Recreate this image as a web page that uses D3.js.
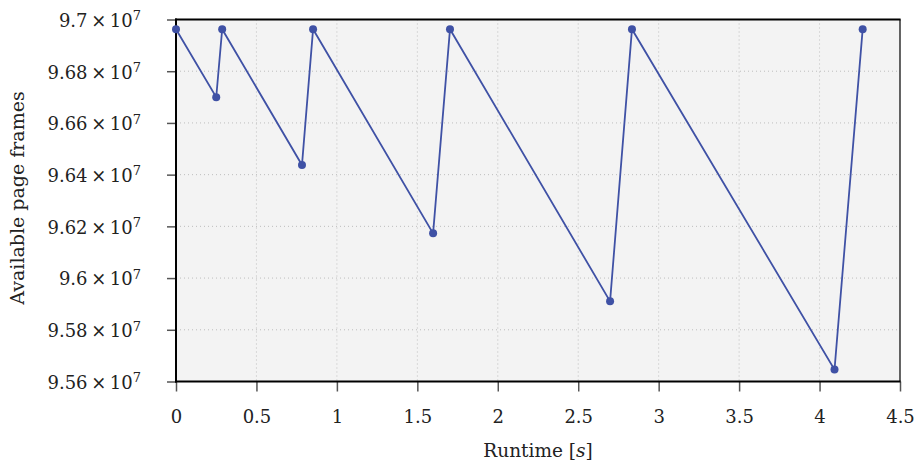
<!DOCTYPE html>
<html><head><meta charset="utf-8">
<script src="https://cdn.jsdelivr.net/npm/d3@7"></script>
<style>body{margin:0;background:#fff}svg{display:block}text{font-family:"DejaVu Serif",serif;fill:#222}</style>
</head><body><svg id="c" width="915" height="464"></svg>
<script>
const runtime = [0, 0.25, 0.287, 0.783, 0.852, 1.598, 1.703, 2.698, 2.834, 4.093, 4.268];
const pages = [96962500, 96699400, 96962500, 96437000, 96962500, 96173000, 96962500, 95910000, 96962500, 95646000, 96962500];
const xTicks = [0, 0.5, 1, 1.5, 2, 2.5, 3, 3.5, 4, 4.5];
const xTickLabels = ["0", "0.5", "1", "1.5", "2", "2.5", "3", "3.5", "4", "4.5"];
const yTicks = [95600000, 95800000, 96000000, 96200000, 96400000, 96600000, 96800000, 97000000];
const yTickMantissa = ["9.56", "9.58", "9.6", "9.62", "9.64", "9.66", "9.68", "9.7"];

const svg = d3.select("#c");
const L = 176, R = 900, T = 19.5, B = 381.5;
const x = d3.scaleLinear().domain([0, 4.5]).range([L, R]);
const y = d3.scaleLinear().domain([95600000, 97000000]).range([B, T]);

svg.append("rect").attr("x", L).attr("y", T).attr("width", R - L).attr("height", B - T).attr("fill", "#f3f3f3");

// grid
const grid = svg.append("g");
grid.selectAll("line.gx").data(xTicks.slice(1, -1)).join("line")
  .attr("x1", d => x(d)).attr("x2", d => x(d)).attr("y1", T).attr("y2", B)
  .attr("stroke", "#bdbdbd").attr("stroke-width", 1).attr("stroke-dasharray", "1,3");
grid.selectAll("line.gy").data(yTicks.slice(1, -1)).join("line")
  .attr("x1", L).attr("x2", R).attr("y1", d => y(d)).attr("y2", d => y(d))
  .attr("stroke", "#bdbdbd").attr("stroke-width", 1).attr("stroke-dasharray", "1,3");

// axes
const xAxis = d3.axisBottom(x).tickValues(xTicks).tickFormat((d, i) => xTickLabels[i]).tickSize(10).tickPadding(18.5);
const gx = svg.append("g").attr("transform", `translate(0,${B})`).call(xAxis);
gx.select(".domain").remove();
gx.selectAll(".tick line").attr("stroke", "#555").attr("stroke-width", 1.5);
gx.selectAll(".tick text").attr("font-size", 18).style("fill", "#222").attr("font-family", "DejaVu Serif");

const yAxis = d3.axisLeft(y).tickValues(yTicks).tickFormat(() => "").tickSize(9).tickPadding(0);
const gy = svg.append("g").attr("transform", `translate(${L},0)`).call(yAxis);
gy.select(".domain").remove();
gy.selectAll(".tick line").attr("stroke", "#555").attr("stroke-width", 1.5);
gy.selectAll(".tick").each(function(d, i) {
  const t = d3.select(this).append("text").attr("x", -35).attr("dy", "0.38em")
    .attr("text-anchor", "end").attr("font-size", 18).style("fill", "#222");
  t.append("tspan").text(yTickMantissa[i] + "\u2009\u00d7\u200910");
  t.append("tspan").attr("dy", "-0.5em").attr("font-size", 13).text("7");
});

// frame
svg.append("line").attr("x1", R).attr("x2", R).attr("y1", T).attr("y2", B).attr("stroke", "#111").attr("stroke-width", 1.3);
svg.append("line").attr("x1", L - 1).attr("x2", R + 0.6).attr("y1", T).attr("y2", T).attr("stroke", "#000").attr("stroke-width", 2);
svg.append("line").attr("x1", L).attr("x2", L).attr("y1", T - 1).attr("y2", B + 1).attr("stroke", "#000").attr("stroke-width", 2);
svg.append("line").attr("x1", L - 1).attr("x2", R + 0.6).attr("y1", B).attr("y2", B).attr("stroke", "#000").attr("stroke-width", 2);

// series
const pts = runtime.map((r, i) => [r, pages[i]]);
svg.append("path").datum(pts)
  .attr("d", d3.line().x(d => x(d[0])).y(d => y(d[1])))
  .attr("fill", "none").attr("stroke", "#3f51a5").attr("stroke-width", 1.8);
svg.selectAll("circle.pt").data(pts).join("circle")
  .attr("cx", d => x(d[0])).attr("cy", d => y(d[1])).attr("r", 4).attr("fill", "#3f51a5");

// labels
svg.append("text").attr("x", (L + R) / 2).attr("y", 457).attr("text-anchor", "middle").attr("font-size", 18.5)
  .html('Runtime [<tspan font-style="italic">s</tspan>]');
svg.append("text").attr("transform", "translate(24,198) rotate(-90)").attr("text-anchor", "middle").attr("font-size", 19)
  .text("Available page frames");
</script></body></html>
